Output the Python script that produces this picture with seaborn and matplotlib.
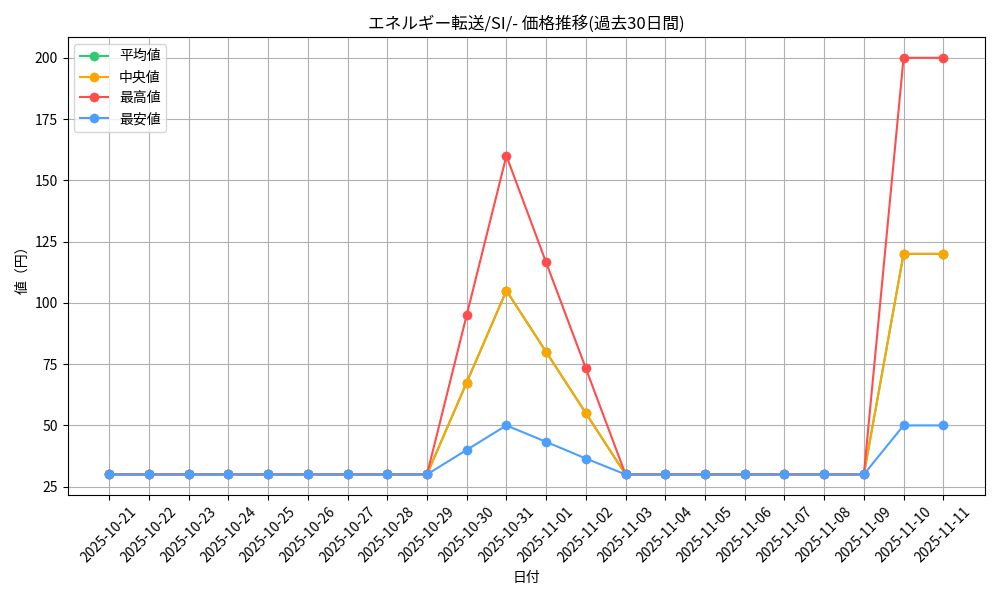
import seaborn as sns
import matplotlib.pyplot as plt
import pandas as pd

# dates (categorical x axis)
dates = ['2025-10-21', '2025-10-22', '2025-10-23', '2025-10-24', '2025-10-25',
         '2025-10-26', '2025-10-27', '2025-10-28', '2025-10-29', '2025-10-30',
         '2025-10-31', '2025-11-01', '2025-11-02', '2025-11-03', '2025-11-04',
         '2025-11-05', '2025-11-06', '2025-11-07', '2025-11-08', '2025-11-09',
         '2025-11-10', '2025-11-11']

mean_vals = [30, 30, 30, 30, 30, 30, 30, 30, 30, 67.5, 105, 80, 55, 30, 30,
             30, 30, 30, 30, 30, 120, 120]
median_vals = [30, 30, 30, 30, 30, 30, 30, 30, 30, 67.5, 105, 80, 55, 30, 30,
               30, 30, 30, 30, 30, 120, 120]
max_vals = [30, 30, 30, 30, 30, 30, 30, 30, 30, 95, 160, 116.5, 73.3, 30, 30,
            30, 30, 30, 30, 30, 200, 200]
min_vals = [30, 30, 30, 30, 30, 30, 30, 30, 30, 40, 50, 43.3, 36.5, 30, 30,
            30, 30, 30, 30, 30, 50, 50]

series = {'平均値': mean_vals, '中央値': median_vals, '最高値': max_vals, '最安値': min_vals}
colors = {'平均値': '#2ecc71', '中央値': '#ffa500', '最高値': '#ff4d4d', '最安値': '#4d9fff'}

rows = []
for name, vals in series.items():
    for d, v in zip(dates, vals):
        rows.append({'日付': d, '値': v, '種類': name})
df = pd.DataFrame(rows)

plt.rcParams['font.family'] = ['Noto Sans CJK JP', 'DejaVu Sans']

fig, ax = plt.subplots(figsize=(10, 6), dpi=100)
sns.lineplot(data=df, x='日付', y='値', hue='種類', palette=colors,
             marker='o', markersize=7, markeredgewidth=0, linewidth=1.5, ax=ax)

ax.set_title('エネルギー転送/SI/- 価格推移(過去30日間)')
ax.set_xlabel('日付')
ax.set_ylabel('値（円）')
plt.xticks(rotation=45)
ax.grid(True)
ax.legend(loc='upper left')
plt.tight_layout()
plt.savefig('out.png')
